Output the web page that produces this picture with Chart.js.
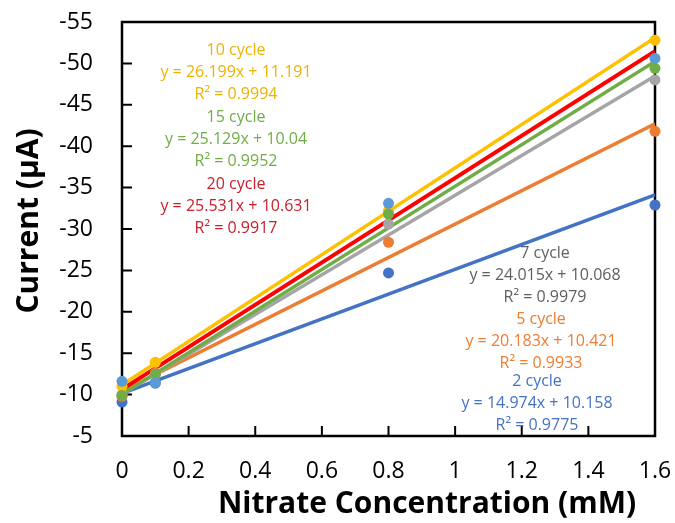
<!DOCTYPE html>
<html>
<head>
<meta charset="utf-8">
<script src="https://cdn.jsdelivr.net/npm/chart.js@4.4.0/dist/chart.umd.min.js"></script>
<style>
  html, body { margin: 0; padding: 0; background: #fff; }
  canvas { display: block; }
</style>
</head>
<body>
<canvas id="myChart" width="675" height="523"></canvas>
<script>
// nitrate concentration (mM)
var xValues = [0, 0.1, 0.8, 1.6];

// current magnitude (uA), axis labels get a "-" prefix like the excel number format
var cycle2  = [9.1, 11.4, 24.7, 32.9];
var cycle5  = [9.8, 12.6, 28.4, 41.8];
var cycle7  = [10.0, 12.4, 30.6, 48.0];
var cycle10 = [11.0, 13.9, 32.2, 52.8];
var cycle15 = [9.9, 12.5, 31.8, 49.4];
var cycle20 = [11.6, 11.4, 33.1, 50.6];

var seriesNames = ['2 cycle', '5 cycle', '7 cycle', '10 cycle', '15 cycle', '20 cycle'];
var slopes      = [14.974, 20.183, 24.015, 26.199, 25.129, 25.531];
var intercepts  = [10.158, 10.421, 10.068, 11.191, 10.04, 10.631];
var rSquared    = ['0.9775', '0.9933', '0.9979', '0.9994', '0.9952', '0.9917'];

var yTicks = [5, 10, 15, 20, 25, 30, 35, 40, 45, 50, 55];

var pointColors = ['#4472C4', '#ED7D31', '#A5A5A5', '#FFC000', '#70AD47', '#5B9BD5'];
var lineColors  = ['#4472C4', '#ED7D31', '#A5A5A5', '#FFC000', '#70AD47', '#FF0000'];
var textColors  = ['#4472C4', '#ED7D31', '#5F5F5F', '#EDB300', '#70AD47', '#C8202A'];

var allSeries = [cycle2, cycle5, cycle7, cycle10, cycle15, cycle20];

function toPoints(vals) {
  var out = [];
  for (var i = 0; i < vals.length; i++) out.push({ x: xValues[i], y: vals[i] });
  return out;
}

var datasets = [];
// scatter points first so they sit on top (dataset 0 is drawn last)
for (var i = allSeries.length - 1; i >= 0; i--) {
  datasets.push({
    type: 'scatter',
    label: seriesNames[i],
    data: toPoints(allSeries[i]),
    backgroundColor: pointColors[i],
    borderColor: pointColors[i],
    pointRadius: 5.5,
    borderWidth: 0,
    clip: false,
    order: 0
  });
}
// linear trendlines from the printed equations
var lineDrawOrder = [5, 3, 4, 2, 1, 0];
for (var k = 0; k < lineDrawOrder.length; k++) {
  var s = lineDrawOrder[k];
  var x0 = xValues[0], x1 = xValues[xValues.length - 1];
  datasets.push({
    type: 'line',
    label: seriesNames[s] + ' fit',
    data: [
      { x: x0, y: slopes[s] * x0 + intercepts[s] },
      { x: x1, y: slopes[s] * x1 + intercepts[s] }
    ],
    borderColor: lineColors[s],
    borderWidth: s == 5 ? 4 : 3.5,
    pointRadius: 0,
    fill: false,
    order: 1
  });
}

var boxPlugin = {
  id: 'boxPlugin',
  beforeDatasetsDraw(chart) {
    const ctx = chart.ctx, a = chart.chartArea;
    const xs = chart.scales.x, ys = chart.scales.y;
    ctx.save();
    ctx.strokeStyle = '#000';
    ctx.lineWidth = 2.5;
    ctx.strokeRect(a.left, a.top, a.right - a.left, a.bottom - a.top);
    ctx.lineWidth = 2;
    ctx.beginPath();
    xs.ticks.forEach(t => {
      const px = xs.getPixelForValue(t.value);
      ctx.moveTo(px, a.bottom);
      ctx.lineTo(px, a.bottom - 10);
    });
    ys.ticks.forEach(t => {
      const py = ys.getPixelForValue(t.value);
      ctx.moveTo(a.left, py);
      ctx.lineTo(a.left + 10, py);
    });
    ctx.stroke();
    ctx.restore();
  },
  afterDatasetsDraw(chart) {
    const ctx = chart.ctx;
    ctx.save();
    ctx.font = '16px "Open Sans"';
    ctx.textAlign = 'center';
    ctx.textBaseline = 'middle';
    // label blocks: [series, centre x, first line y]
    const blocks = [[3, 236, 50], [4, 236, 117], [5, 236, 184],
                    [2, 545, 253], [1, 541, 319], [0, 537, 381]];
    blocks.forEach(b => {
      const s = b[0];
      ctx.fillStyle = textColors[s];
      ctx.fillText(seriesNames[s], b[1], b[2]);
      ctx.fillText('y = ' + slopes[s] + 'x + ' + intercepts[s], b[1], b[2] + 22);
      ctx.fillText('R\u00B2 = ' + rSquared[s], b[1], b[2] + 44);
    });
    ctx.restore();
  },
  afterDraw(chart) {
    const ctx = chart.ctx;
    ctx.save();
    ctx.fillStyle = '#000';
    ctx.font = 'bold 30px "Open Sans"';
    ctx.textAlign = 'center';
    ctx.textBaseline = 'middle';
    ctx.fillText('Nitrate Concentration (mM)', 427, 504);
    ctx.translate(29, 221);
    ctx.rotate(-Math.PI / 2);
    ctx.fillText('Current (\u00B5A)', 0, 0);
    ctx.restore();
  }
};

Chart.defaults.font.family = '"Open Sans", sans-serif';
Chart.defaults.color = '#000';

new Chart(document.getElementById('myChart').getContext('2d'), {
  type: 'scatter',
  data: { datasets: datasets },
  options: {
    responsive: false,
    animation: false,
    layout: { padding: { left: 0, top: 22, right: 20, bottom: 0 } },
    plugins: {
      legend: { display: false },
      tooltip: { enabled: false }
    },
    scales: {
      x: {
        type: 'linear',
        min: 0,
        max: 1.6,
        grid: { display: false, drawTicks: false },
        border: { display: false },
        afterFit: function (scale) {
          scale.height = 87;
          scale.paddingLeft = 0;
          scale.paddingRight = 0;
        },
        ticks: {
          stepSize: 0.2,
          padding: 22,
          font: { size: 23 },
          callback: function (v) { return String(Math.round(v * 10) / 10); }
        }
      },
      y: {
        type: 'linear',
        min: 5,
        max: 55,
        grid: { display: false, drawTicks: false },
        border: { display: false },
        afterFit: function (scale) {
          scale.width = 122;
          scale.paddingTop = 0;
          scale.paddingBottom = 0;
        },
        afterBuildTicks: function (scale) {
          scale.ticks = yTicks.map(v => ({ value: v }));
        },
        ticks: {
          padding: 29,
          font: { size: 23 },
          callback: function (v) { return '-' + v; }
        }
      }
    }
  },
  plugins: [boxPlugin]
});
</script>
</body>
</html>
